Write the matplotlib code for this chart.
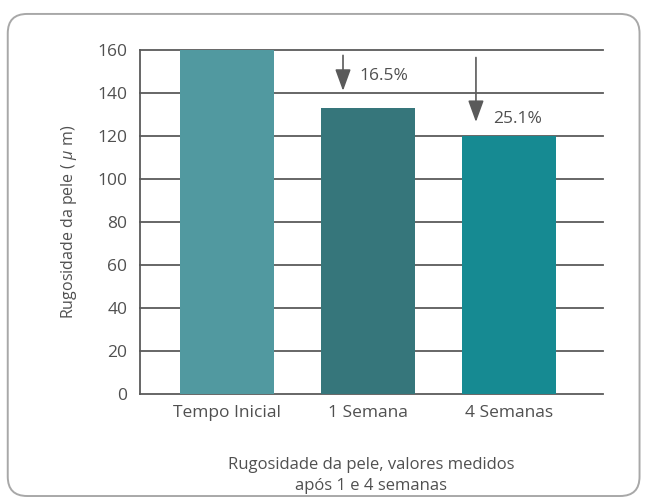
import matplotlib

matplotlib.use("Agg")
import matplotlib.pyplot as plt
from matplotlib.patches import FancyBboxPatch

categories = ["Tempo Inicial", "1 Semana", "4 Semanas"]
values = [160, 133, 120]
bar_colors = ["#5199a0", "#36767b", "#168a92"]
yticks = [0, 20, 40, 60, 80, 100, 120, 140, 160]

# reduction annotations: (label, bar index it points to, arrow top, arrow tip)
reductions = [("16.5%", 1, 157.5, 141.0), ("25.1%", 2, 156.5, 126.5)]

plt.rcParams["font.family"] = ["Open Sans", "DejaVu Sans"]
plt.rcParams["mathtext.fontset"] = "custom"
plt.rcParams["mathtext.it"] = "Open Sans:italic"
plt.rcParams["mathtext.rm"] = "Open Sans"
text_color = "#505050"
line_color = "#5a5a5a"

fig = plt.figure(figsize=(6.46, 4.98), dpi=100)
ax = fig.add_axes([0.2167, 0.2088, 0.7167, 0.6908])

# rounded frame around the whole chart
frame = FancyBboxPatch(
    (0.012, 0.004), 0.978, 0.968,
    boxstyle="round,pad=0,rounding_size=0.03",
    transform=fig.transFigure, facecolor="none",
    edgecolor="#a8a8a8", linewidth=1.4, mutation_aspect=646 / 498,
)
fig.patches.append(frame)

for y in yticks:
    ax.axhline(y, color=line_color, linewidth=1.3, zorder=1, clip_on=False)

x = list(range(len(categories)))
ax.bar(x, values, width=0.667, color=bar_colors, zorder=2)

for label, idx, top, tip in reductions:
    ax_x = idx - (0.177 if idx == 1 else 0.234)
    ax.annotate(
        "", xy=(ax_x, tip), xytext=(ax_x, top),
        arrowprops=dict(arrowstyle="-|>,head_width=0.4,head_length=1.1",
                        mutation_scale=12, color=line_color, lw=1.2,
                        shrinkA=0, shrinkB=0),
        zorder=3,
    )
    ax.text(ax_x + 0.12, tip + (7 if idx == 1 else 1.5), label,
            fontsize=12.5, color=text_color, va="center", ha="left")

ax.set_xlim(-0.617, 2.667)
ax.set_ylim(0, 160)
ax.set_yticks(yticks)
ax.set_xticks(x)
ax.set_xticklabels(categories)
ax.tick_params(axis="both", length=0, labelsize=12.5, labelcolor=text_color)
ax.tick_params(axis="y", pad=9)
ax.tick_params(axis="x", pad=8)

for side in ["top", "right", "bottom"]:
    ax.spines[side].set_visible(False)
ax.spines["left"].set_color(line_color)
ax.spines["left"].set_linewidth(1.3)

ax.set_ylabel("Rugosidade da pele (" + r"$\ \mu\ $" + "m)", fontsize=11.5,
              color=text_color, labelpad=13)
ax.set_xlabel("Rugosidade da pele, valores medidos\napós 1 e 4 semanas",
              fontsize=12, color=text_color, labelpad=26, linespacing=1.4)

fig.savefig("out.png", dpi=100, facecolor="white")
